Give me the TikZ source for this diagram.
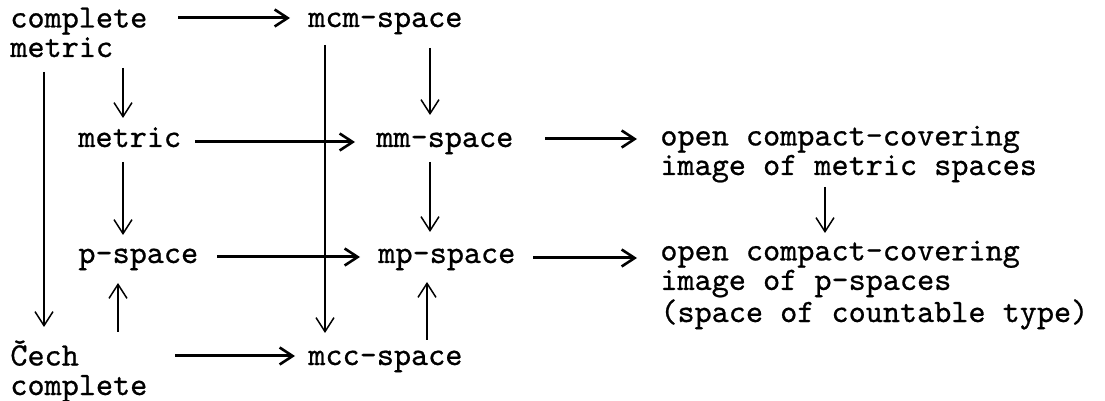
\documentclass[tikz,border=0pt]{standalone}
\usepackage{fontspec}
\newfontfamily\typewr[FakeBold=0.7]{lmmono10-regular.otf}
\usetikzlibrary{arrows.meta,calc}
\begin{document}
\begin{tikzpicture}[x=0.5pt,y=-0.5pt,
  lbl/.style={inner sep=0pt,anchor=base west,align=left,
    font=\typewr\fontsize{16.3pt}{14.75pt}\selectfont},
  varr/.style={line width=0.75pt,-{Straight Barb[length=7pt,width=9pt,line width=0.75pt]}},
  harr/.style={line width=1.5pt,-{Straight Barb[length=6.5pt,width=8.5pt,line width=1.3pt]}}]
\fill[white] (0,0) rectangle (1105,401);
\useasboundingbox (0,0) rectangle (1105,401);
% nodes (multi-line nodes are placed by the baseline of their last line)
\node[lbl] (cm)   at (10,57)  {complete\\metric};
\node[lbl] (mcm)  at (308,27) {mcm-space};
\node[lbl] (met)  at (78,147) {metric};
\node[lbl] (mm)   at (376,147) {mm-space};
\node[lbl] (ocm)  at (660,175) {open compact-covering\\image of metric spaces};
\node[lbl] (ps)   at (78,263) {p-space};
\node[lbl] (mp)   at (378,263) {mp-space};
\node[lbl] (ocp)  at (660,322) {open compact-covering\\image of p-spaces\\(space of countable type)};
\node[lbl] (cech) at (10,395) {Čech\\complete};
\node[lbl] (mcc)  at (308,365) {mcc-space};
% connectors
\draw[harr] ($(cm.base west)+(168,-39)$) -- ($(mcm.base west)+(-18,-9)$);
\draw[varr] ($(cm.base west)+(34,15)$) -- ($(cech.base west)+(34,-68)$);
\draw[varr] ($(cm.base west)+(113,11)$) -- ($(met.base west)+(45,-29)$);
\draw[varr] ($(mcm.base west)+(122,21)$) -- ($(mm.base west)+(54,-32)$);
\draw[varr] ($(mcm.base west)+(17,18)$) -- ($(mcc.base west)+(17,-32)$);
\draw[harr] ($(met.base west)+(117,-5)$) -- ($(mm.base west)+(-21,-5)$);
\draw[harr] ($(mm.base west)+(169,-8)$) -- ($(ocm.base west)+(-23,-36)$);
\draw[varr] ($(met.base west)+(45,15)$) -- ($(ps.base west)+(45,-28)$);
\draw[varr] ($(mm.base west)+(54,15)$) -- ($(mp.base west)+(52,-31)$);
\draw[varr] ($(ocm.base west)+(165,12)$) -- ($(ocp.base west)+(165,-89)$);
\draw[harr] ($(ps.base west)+(139,-6)$) -- ($(mp.base west)+(-18,-6)$);
\draw[harr] ($(mp.base west)+(155,-5)$) -- ($(ocp.base west)+(-23,-64)$);
\draw[varr] ($(cech.base west)+(108,-63)$) -- ($(ps.base west)+(40,20)$);
\draw[varr] ($(mcc.base west)+(119,-25)$) -- ($(mp.base west)+(49,19)$);
\draw[harr] ($(cech.base west)+(165,-39)$) -- ($(mcc.base west)+(-13,-9)$);
\end{tikzpicture}
\end{document}
